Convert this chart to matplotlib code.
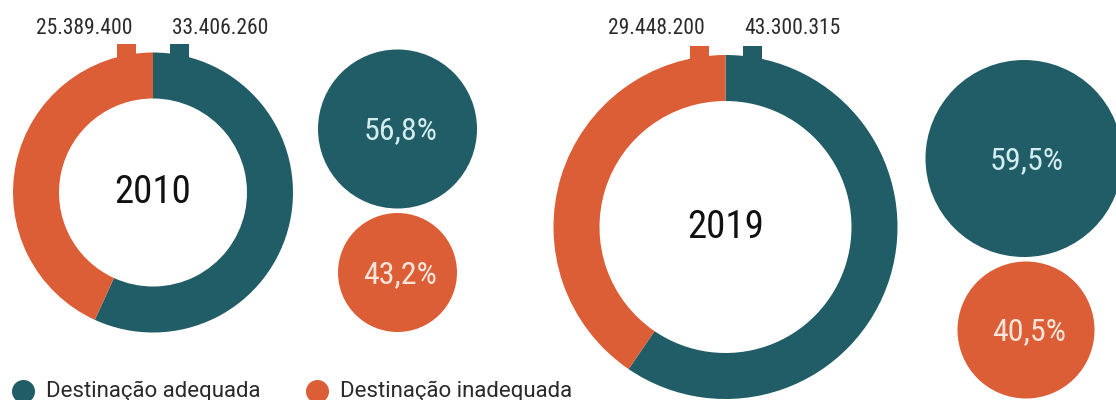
import matplotlib
matplotlib.use("Agg")
import matplotlib.pyplot as plt
from matplotlib import font_manager as fm
from matplotlib.font_manager import FontProperties
from matplotlib.patches import Circle, Rectangle

# dados
anos = ['2010', '2019']
adequada = [33406260, 43300315]
inadequada = [25389400, 29448200]
pct_adequada = [56.8, 59.5]
pct_inadequada = [43.2, 40.5]
legenda = ['Destinação adequada', 'Destinação inadequada']

TEAL = '#215d66'
ORANGE = '#dc5e37'
DARK = '#2a2a2a'

# procura uma fonte condensada instalada
def escolhe_fonte():
    pref = ['Roboto Condensed', 'Noto Sans', 'Open Sans', 'DejaVu Sans', 'Liberation Sans Narrow']
    achadas = []
    for f in fm.fontManager.ttflist:
        cond = ('Condensed' in f.name or 'Narrow' in f.name
                or f.stretch in ('condensed', 'semi-condensed', 'extra-condensed', 500, 400, 300))
        if isinstance(f.stretch, int) and f.stretch >= 500:
            cond = cond and ('Condensed' in f.name or 'Narrow' in f.name)
        if not cond or f.style != 'normal':
            continue
        if f.weight not in (400, 'normal', 'regular', 'book'):
            continue
        rank = len(pref)
        for k, p in enumerate(pref):
            if f.name.startswith(p):
                rank = k
                break
        achadas.append((rank, f.fname))
    if achadas:
        achadas.sort()
        return achadas[0][1]
    return None

FONTE = escolhe_fonte()

def fp(size):
    if FONTE:
        return FontProperties(fname=FONTE, size=size)
    return FontProperties(family='DejaVu Sans', size=size)

def fmt_num(v):
    return f"{v:,}".replace(',', '.')

def fmt_pct(v):
    return f"{v:.1f}%".replace('.', ',')

fig = plt.figure(figsize=(11.16, 4.0), dpi=100)
ax = fig.add_axes([0, 0, 1, 1])

# layout (pixels): centro do anel, raio externo, largura do anel
donuts = [
    dict(c=(153, 192.5), r=140, w=46),
    dict(c=(725.5, 227), r=172, w=46),
]
# bolhas: (centro, raio)
bolhas = [
    [((397.5, 129), 79.5), ((397.5, 272.5), 59.5)],
    [((1024, 158.5), 98.5), ((1026, 330), 68.5)],
]

for i, d in enumerate(donuts):
    cx, cy = d['c']
    r = d['r']
    ax.pie([adequada[i], inadequada[i]], colors=[TEAL, ORANGE],
           center=(cx, cy), radius=r, startangle=-90,
           wedgeprops=dict(width=d['w'], linewidth=0))
    # abas no topo do anel
    top = cy - r - 9
    ax.add_patch(Rectangle((cx - 36, top), 19, 14, color=ORANGE, lw=0))
    ax.add_patch(Rectangle((cx + 17, top), 19, 14, color=TEAL, lw=0))
    ax.text(cx - 69, 28, fmt_num(inadequada[i]), ha='center', va='center',
            fontproperties=fp(15.5), color=DARK)
    ax.text(cx + 67, 28, fmt_num(adequada[i]), ha='center', va='center',
            fontproperties=fp(15.5), color=DARK)
    ax.text(cx, cy, anos[i], ha='center', va='center', fontproperties=fp(28), color='#111111')

    (c1, r1), (c2, r2) = bolhas[i]
    ax.add_patch(Circle(c1, r1, color=TEAL, lw=0))
    ax.add_patch(Circle(c2, r2, color=ORANGE, lw=0))
    ax.text(c1[0] + 3, c1[1] + 2, fmt_pct(pct_adequada[i]), ha='center', va='center',
            fontproperties=fp(23), color='#d3ecf0')
    ax.text(c2[0] + 3, c2[1] + 2, fmt_pct(pct_inadequada[i]), ha='center', va='center',
            fontproperties=fp(23), color='#fbe4da')

# legenda (fonte normal, nao condensada)
for (x, cor, txt) in [(23.5, TEAL, legenda[0]), (317.5, ORANGE, legenda[1])]:
    ax.add_patch(Circle((x, 391.5), 11.5, color=cor, lw=0))
    ax.text(x + 23, 391, txt, ha='left', va='center', family='Roboto',
            fontsize=16, color=DARK)

ax.set_xlim(0, 1116)
ax.set_ylim(400, 0)
ax.set_aspect('equal')
ax.axis('off')

fig.savefig('out.png', dpi=100, facecolor='white')
